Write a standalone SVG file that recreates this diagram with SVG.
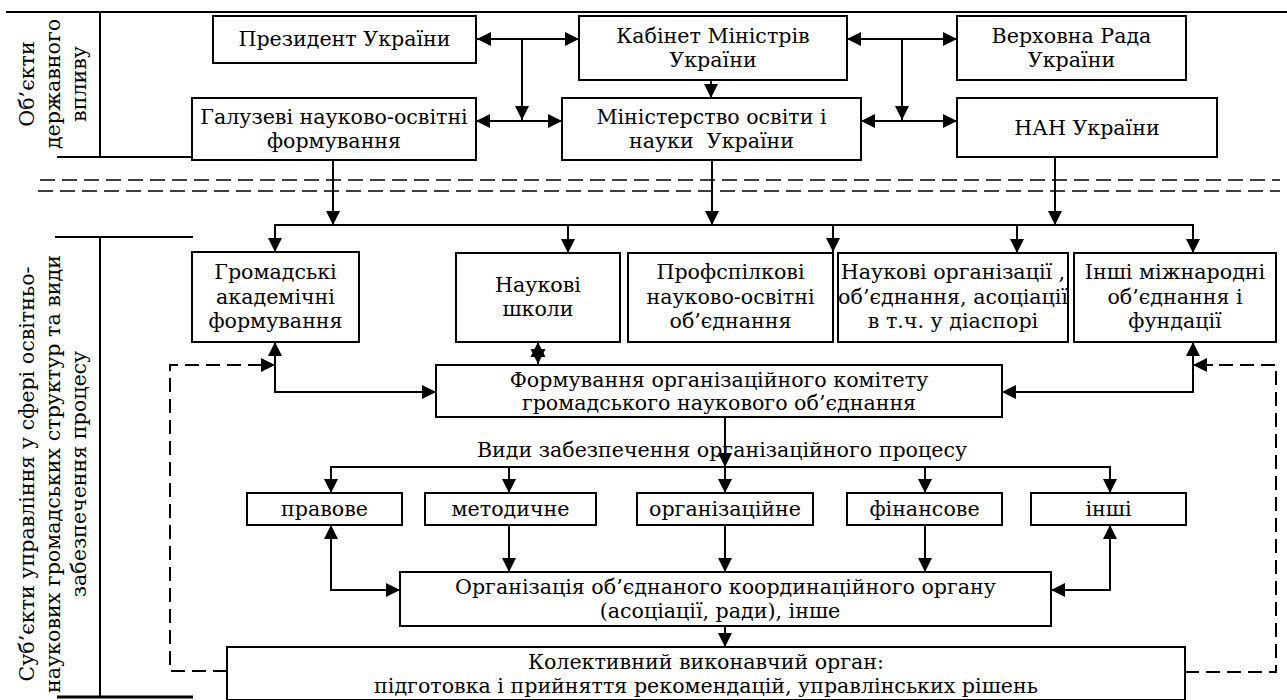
<svg xmlns="http://www.w3.org/2000/svg" width="1287" height="700" viewBox="0 0 1287 700">
<style>
.box{fill:#fff;stroke:#000;stroke-width:2}
.t{font-family:"DejaVu Serif","Liberation Serif",serif;font-size:20.6px;text-anchor:middle;fill:#000}
.ln{stroke:#000;stroke-width:2;fill:none}
.fr{stroke:#000;stroke-width:2.2;fill:none}
.sep{stroke:#000;stroke-width:1.6;fill:none;stroke-dasharray:15 7}
.dl{stroke:#000;stroke-width:2;fill:none;stroke-dasharray:14 7}
.a{marker-end:url(#ah)}
.b{marker-start:url(#ah);marker-end:url(#ah)}
</style>
<defs>
<marker id="ah" viewBox="0 0 14 14" refX="14" refY="7" markerWidth="14" markerHeight="14" markerUnits="userSpaceOnUse" orient="auto-start-reverse">
<path d="M0,0 L14,7 L0,14 z" fill="#000"/>
</marker>
</defs>
<rect width="1287" height="700" fill="#fff"/>

<g id="frame">
<line class="fr" x1="6" y1="12" x2="1287" y2="12"/>
<line class="ln" x1="100" y1="12" x2="100" y2="157"/>
<line class="ln" x1="57" y1="157" x2="192" y2="157"/>
<line class="ln" x1="55" y1="237" x2="193" y2="237"/>
<line class="ln" x1="100" y1="237" x2="100" y2="697"/>
<line class="fr" x1="57" y1="697" x2="193" y2="697" style="stroke-width:3"/>
<line class="sep" x1="40" y1="180" x2="1280" y2="180"/>
<line class="sep" x1="38" y1="191" x2="1280" y2="191"/>
<text class="t" transform="translate(34,84) rotate(-90)">Об’єкти</text>
<text class="t" transform="translate(60,84) rotate(-90)">державного</text>
<text class="t" transform="translate(86,84) rotate(-90)">впливу</text>
<text class="t" transform="translate(34,474) rotate(-90)">Суб’єкти управління у сфері освітньо-</text>
<text class="t" transform="translate(60,474) rotate(-90)">наукових громадських  структур та види</text>
<text class="t" transform="translate(86,474) rotate(-90)">забезпечення процесу</text>
</g>

<g id="connectors">
<line class="ln b" x1="477" y1="39" x2="579" y2="39"/>
<line class="ln a" x1="522" y1="39" x2="522" y2="120"/>
<line class="ln b" x1="476" y1="121" x2="562" y2="121"/>
<line class="ln a" x1="711" y1="80" x2="711" y2="98"/>
<line class="ln b" x1="847" y1="39" x2="957" y2="39"/>
<line class="ln a" x1="902" y1="39" x2="902" y2="120"/>
<line class="ln b" x1="861" y1="121" x2="957" y2="121"/>

<line class="ln a" x1="333" y1="160" x2="333" y2="225"/>
<line class="ln a" x1="712" y1="160" x2="712" y2="225"/>
<line class="ln a" x1="1055" y1="157" x2="1055" y2="225"/>
<line class="ln" x1="275" y1="225" x2="1193" y2="225"/>
<line class="ln a" x1="275" y1="224" x2="275" y2="252"/>
<line class="ln a" x1="568" y1="224" x2="568" y2="253"/>
<line class="ln a" x1="833" y1="224" x2="833" y2="252"/>
<line class="ln a" x1="1017" y1="224" x2="1017" y2="253"/>
<line class="ln a" x1="1193" y1="224" x2="1193" y2="253"/>

<polygon points="538,342 545.5,357 530.5,357" fill="#000"/>
<polygon points="538,364 545.5,349 530.5,349" fill="#000"/>
<line class="ln" x1="538" y1="342" x2="538" y2="364"/>

<polyline class="ln b" points="275,342 275,392 436,392"/>
<polyline class="ln b" points="1193,342 1193,392 1002,392"/>
<polyline class="dl" points="227,671 170,671 170,365 262,365"/>
<line class="ln a" x1="255" y1="365" x2="275" y2="365"/>
<polyline class="dl" points="1185,672 1276,672 1276,365 1206,365"/>
<line class="ln a" x1="1213" y1="365" x2="1193" y2="365"/>

<line class="ln a" x1="725" y1="417" x2="725" y2="467"/>
<line class="ln" x1="331" y1="467" x2="1110" y2="467"/>
<line class="ln a" x1="331" y1="466" x2="331" y2="493"/>
<line class="ln a" x1="509" y1="466" x2="509" y2="493"/>
<line class="ln a" x1="725" y1="466" x2="725" y2="493"/>
<line class="ln a" x1="925" y1="466" x2="925" y2="493"/>
<line class="ln a" x1="1110" y1="466" x2="1110" y2="493"/>

<polyline class="ln b" points="331,525 331,590 400,590"/>
<line class="ln a" x1="509" y1="525" x2="509" y2="572"/>
<line class="ln a" x1="725" y1="525" x2="725" y2="572"/>
<line class="ln a" x1="925" y1="525" x2="925" y2="572"/>
<polyline class="ln b" points="1110,525 1110,590 1051,590"/>
<line class="ln a" x1="725" y1="626" x2="725" y2="647"/>
<text class="t" x="722" y="457">Види забезпечення організаційного процесу</text>
</g>

<g id="president"><rect class="box" x="213" y="16" width="263" height="47"/><text class="t" x="344.5" y="46">Президент України</text></g>
<g id="cabinet"><rect class="box" x="579" y="16" width="268" height="64"/><text class="t" x="713" y="43">Кабінет Міністрів</text><text class="t" x="713" y="67">України</text></g>
<g id="rada"><rect class="box" x="957" y="16" width="229" height="64"/><text class="t" x="1071.5" y="43">Верховна Рада</text><text class="t" x="1071.5" y="67">України</text></g>
<g id="galuzevi"><rect class="box" x="192" y="98" width="284" height="62"/><text class="t" x="334" y="124">Галузеві науково-освітні</text><text class="t" x="334" y="148">формування</text></g>
<g id="ministry"><rect class="box" x="562" y="98" width="299" height="62"/><text class="t" x="711.5" y="124">Міністерство освіти і</text><text class="t" x="711.5" y="148">науки&#160; України</text></g>
<g id="nan"><rect class="box" x="957" y="98" width="260" height="59"/><text class="t" x="1087" y="135">НАН України</text></g>

<g id="hromadski"><rect class="box" x="192" y="252" width="167" height="90"/><text class="t" x="275.5" y="279">Громадські</text><text class="t" x="275.5" y="304">академічні</text><text class="t" x="275.5" y="328">формування</text></g>
<g id="shkoly"><rect class="box" x="456" y="253" width="164" height="89"/><text class="t" x="538" y="292">Наукові</text><text class="t" x="538" y="316">школи</text></g>
<g id="profspilkovi"><rect class="box" x="628" y="253" width="205" height="89"/><text class="t" x="730.5" y="279">Профспілкові</text><text class="t" x="730.5" y="304">науково-освітні</text><text class="t" x="730.5" y="328">об’єднання</text></g>
<g id="naukovi-org"><rect class="box" x="838" y="253" width="230" height="89"/><text class="t" x="953" y="279">Наукові організації ,</text><text class="t" x="953" y="304">об’єднання, асоціації</text><text class="t" x="953" y="328">в т.ч. у діаспорі</text></g>
<g id="inshi-mizhnar"><rect class="box" x="1074" y="253" width="202" height="89"/><text class="t" x="1175" y="279">Інші міжнародні</text><text class="t" x="1175" y="304">об’єднання і</text><text class="t" x="1175" y="328">фундації</text></g>

<g id="formuvannya"><rect class="box" x="436" y="365" width="566" height="52"/><text class="t" x="719" y="387">Формування організаційного комітету</text><text class="t" x="719" y="410">громадського наукового об’єднання</text></g>

<g id="pravove"><rect class="box" x="247" y="493" width="155" height="32"/><text class="t" x="324.5" y="516">правове</text></g>
<g id="metodychne"><rect class="box" x="425" y="493" width="171" height="32"/><text class="t" x="510.5" y="516">методичне</text></g>
<g id="orhanizatsiine"><rect class="box" x="637" y="493" width="176" height="32"/><text class="t" x="725" y="516">організаційне</text></g>
<g id="finansove"><rect class="box" x="847" y="493" width="155" height="32"/><text class="t" x="924.5" y="516">фінансове</text></g>
<g id="inshi"><rect class="box" x="1031" y="493" width="155" height="32"/><text class="t" x="1108.5" y="516">інші</text></g>

<g id="koord-organ"><rect class="box" x="400" y="572" width="651" height="54"/><text class="t" x="725.5" y="594">Організація об’єднаного координаційного органу</text><text class="t" x="720" y="618">(асоціації, ради), інше</text></g>
<g id="kolektyvnyi"><rect class="box" x="227" y="647" width="958" height="53"/><text class="t" x="706" y="669">Колективний виконавчий орган:</text><text class="t" x="706" y="693">підготовка і прийняття рекомендацій, управлінських рішень</text></g>
</svg>
